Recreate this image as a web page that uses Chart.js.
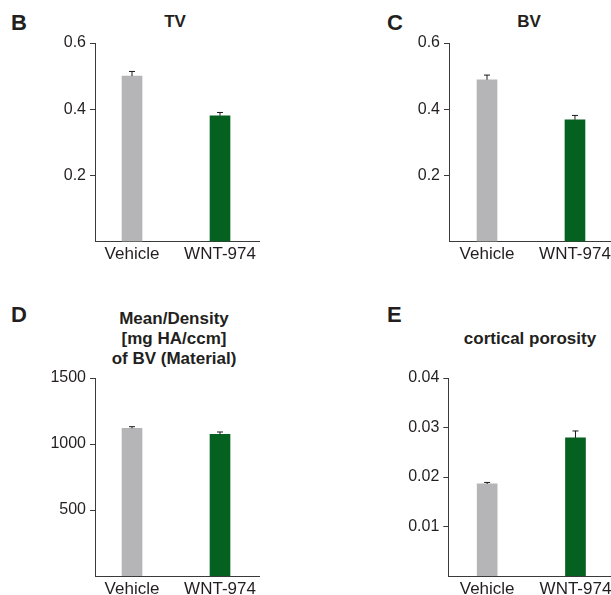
<!DOCTYPE html>
<html>
<head>
<meta charset="utf-8">
<script src="https://cdn.jsdelivr.net/npm/chart.js@4"></script>
<style>
  html, body { margin: 0; padding: 0; background: #ffffff; overflow: hidden; }
  #page { position: relative; width: 611px; height: 595px; overflow: hidden; background: #ffffff; }
  canvas { position: absolute; }
  .txt { position: absolute; font-family: "Liberation Sans", Arial, sans-serif; color: #231f20; white-space: nowrap; }
  .letter { font-size: 22px; line-height: 22px; font-weight: bold; }
  .title { font-size: 17px; line-height: 20px; font-weight: bold; text-align: center; width: 220px; }
</style>
</head>
<body>
<div id="page">
  <div class="txt letter" style="left:11px; top:12px;">B</div>
  <div class="txt letter" style="left:387px; top:12px;">C</div>
  <div class="txt letter" style="left:11px; top:304px;">D</div>
  <div class="txt letter" style="left:387px; top:304px;">E</div>
  <div class="txt title" style="left:65px; top:11.5px;">TV</div>
  <div class="txt title" style="left:419px; top:11.5px;">BV</div>
  <div class="txt title" style="left:64px; top:308.5px;">Mean/Density<br>[mg HA/ccm]<br>of BV (Material)</div>
  <div class="txt title" style="left:420px; top:328.5px;">cortical porosity</div>

  <canvas id="cB" width="260" height="270" style="left:0px; top:0px;"></canvas>
  <canvas id="cC" width="324" height="270" style="left:305px; top:0px;"></canvas>
  <canvas id="cD" width="260" height="315" style="left:0px; top:290px;"></canvas>
  <canvas id="cE" width="324" height="315" style="left:305px; top:290px;"></canvas>
</div>
<script>
// ---- data ----
const categories = ['Vehicle', 'WNT-974'];

const tvMean = [0.500, 0.380];
const tvErr = [0.014, 0.010];

const bvMean = [0.489, 0.368];
const bvErr = [0.014, 0.013];

const densityMean = [1119, 1073];
const densityErr = [12, 18];

const porosityMean = [0.0186, 0.0279];
const porosityErr = [0.0003, 0.0014];

const volumeTicks = [0.2, 0.4, 0.6];
const volumeTickLabels = ['0.2', '0.4', '0.6'];
const densityTicks = [500, 1000, 1500];
const densityTickLabels = ['500', '1000', '1500'];
const porosityTicks = [0.01, 0.02, 0.03, 0.04];
const porosityTickLabels = ['0.01', '0.02', '0.03', '0.04'];

// ---- styles ----
const barColors = ['#b5b5b7', '#05611f'];
const axisColor = '#3a3a3a';
const textColor = '#231f20';
const fontFamily = '"Liberation Sans", Arial, sans-serif';

const errorBarPlugin = {
  id: 'errorBars',
  afterDatasetsDraw(chart) {
    const ctx = chart.ctx;
    const yScale = chart.scales.y;
    chart.data.datasets.forEach((ds, di) => {
      const meta = chart.getDatasetMeta(di);
      meta.data.forEach((bar, i) => {
        const v = ds.data[i].y;
        const e = ds.errors[i];
        const yTop = yScale.getPixelForValue(v + e);
        const yBase = yScale.getPixelForValue(v);
        ctx.save();
        ctx.strokeStyle = '#1a1a1a';
        ctx.lineWidth = 1;
        ctx.beginPath();
        ctx.moveTo(bar.x, yBase);
        ctx.lineTo(bar.x, yTop);
        ctx.moveTo(bar.x - 3, yTop);
        ctx.lineTo(bar.x + 3, yTop);
        ctx.stroke();
        ctx.restore();
      });
    });
  }
};

function makePanel(id, means, errs, yMax, tickVals, tickLabels, geo) {
  return new Chart(document.getElementById(id), {
    type: 'bar',
    data: {
      datasets: [{
        data: categories.map((c, i) => ({ x: i, y: means[i] })),
        errors: errs,
        backgroundColor: barColors,
        borderWidth: 0,
        barThickness: 20
      }]
    },
    options: {
      responsive: false,
      animation: false,
      devicePixelRatio: 1,
      layout: { padding: { top: geo.padTop, left: 0, right: 0, bottom: 0 } },
      plugins: { legend: { display: false }, tooltip: { enabled: false }, title: { display: false } },
      scales: {
        x: {
          type: 'linear',
          min: geo.xMin,
          max: geo.xMax,
          offset: false,
          grid: { display: false, drawTicks: false },
          border: { display: true, color: axisColor, width: 1 },
          afterBuildTicks: s => { s.ticks = categories.map((c, i) => ({ value: i })); },
          ticks: {
            callback: v => categories[v],
            color: textColor,
            font: { family: fontFamily, size: 17 },
            padding: 3,
            maxRotation: 0,
            autoSkip: false
          },
          afterFit: s => { s.height = geo.xAxisHeight; }
        },
        y: {
          min: 0,
          max: yMax,
          afterBuildTicks: s => { s.ticks = tickVals.map(v => ({ value: v })); },
          grid: { display: true, drawOnChartArea: false, drawTicks: true, tickLength: 5, color: axisColor, lineWidth: 1 },
          border: { display: true, color: axisColor, width: 1 },
          ticks: {
            callback: v => tickLabels[tickVals.indexOf(v)],
            color: textColor,
            font: { family: fontFamily, size: 16 },
            padding: 4
          },
          afterFit: s => { s.width = geo.yAxisWidth; }
        }
      }
    },
    plugins: [errorBarPlugin]
  });
}

makePanel('cB', tvMean, tvErr, 0.6, volumeTicks, volumeTickLabels,
  { padTop: 43, yAxisWidth: 95, xAxisHeight: 28.5, xMin: -0.4205, xMax: 1.4545 });
makePanel('cC', bvMean, bvErr, 0.6, volumeTicks, volumeTickLabels,
  { padTop: 43, yAxisWidth: 144, xAxisHeight: 28.5, xMin: -0.432, xMax: 1.614 });
makePanel('cD', densityMean, densityErr, 1500, densityTicks, densityTickLabels,
  { padTop: 88, yAxisWidth: 95, xAxisHeight: 29, xMin: -0.4205, xMax: 1.4545 });
makePanel('cE', porosityMean, porosityErr, 0.04, porosityTicks, porosityTickLabels,
  { padTop: 88, yAxisWidth: 143.3, xAxisHeight: 29, xMin: -0.44, xMax: 1.606 });
</script>
</body>
</html>
